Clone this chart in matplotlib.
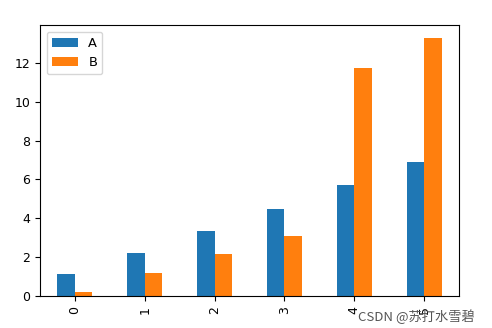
import numpy as np
import pandas as pd
import matplotlib
matplotlib.use('Agg')
from matplotlib import pyplot as plt

plt.rcParams['font.size'] = 9

idx = [0, 1, 2, 3, 4, 5]
a_vals = [1.11, 2.19, 3.35, 4.5, 5.73, 6.92]
b_vals = [0.2, 1.18, 2.14, 3.09, 11.73, 13.28]

df = pd.DataFrame({'A': a_vals, 'B': b_vals}, index=idx)

fig = plt.figure(figsize=(4.92, 3.28), dpi=100)
ax = fig.add_axes([0.0813, 0.0976, 0.8516, 0.8262])
df.plot(kind='bar', ax=ax)
ax.legend(loc='upper left', fontsize=9.4)

# watermark, bottom right
fig.text(0.965, 0.035, 'CSDN @苏打水雪碧', ha='right', va='center',
         color='#555555', fontsize=9.5,
         family=['Noto Sans CJK SC', 'DejaVu Sans'])

fig.savefig('out.png', dpi=100)
plt.close()
